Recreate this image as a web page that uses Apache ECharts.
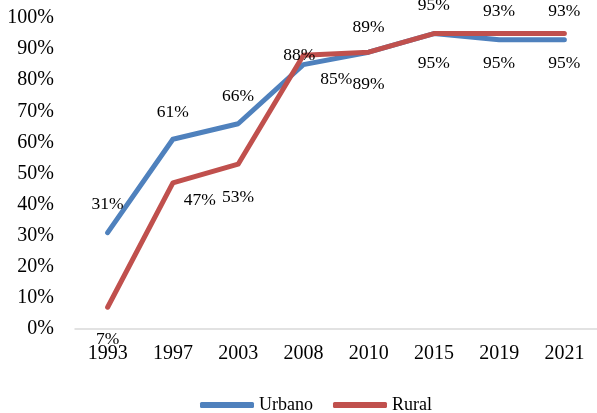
<!DOCTYPE html>
<html>
<head>
<meta charset="utf-8">
<script src="https://cdn.jsdelivr.net/npm/echarts@6/dist/echarts.min.js"></script>
<style>html,body{margin:0;padding:0;background:#fff}#c{width:597px;height:413px}</style>
</head>
<body>
<div id="c"></div>
<script>
const categories = ['1993','1997','2003','2008','2010','2015','2019','2021'];
const urbano = [31, 61, 66, 85, 89, 95, 93, 93];
const rural = [7, 47, 53, 88, 89, 95, 95, 95];
const yTicks = [0,10,20,30,40,50,60,70,80,90,100];

// label offsets [dx, dy] relative to the point (placement only)
const urbanoLabelOffsets = [[0,-28],[0,-27],[0,-27],[33,15],[0,32],[0,-28],[0,-28],[0,-28]];
const ruralLabelOffsets  = [[0,32],[27,18],[0,33],[-4,0],[0,-25],[0,30],[0,30],[0,30]];

const font = 'Liberation Serif, Times New Roman, serif';

function buildData(vals, offs){
  return vals.map((v,i)=>({value:v, label:{offset:offs[i]}}));
}

const chart = echarts.init(document.getElementById('c'), null, {renderer:'canvas'});
chart.setOption({
  animation:false,
  backgroundColor:'#fff',
  grid:{left:75, width:524, top:18, bottom:84, containLabel:false},
  xAxis:{
    type:'category', data:categories, boundaryGap:true,
    axisLine:{lineStyle:{color:'#d9d9d9', width:1.5}},
    axisTick:{show:false},
    axisLabel:{color:'#000', fontFamily:font, fontSize:20, margin:15}
  },
  yAxis:{
    type:'value', min:yTicks[0], max:yTicks[yTicks.length-1], interval:10,
    axisLine:{show:false}, axisTick:{show:false}, splitLine:{show:false},
    axisLabel:{color:'#000', fontFamily:font, fontSize:20, margin:21, formatter:'{value}%'}
  },
  legend:{
    data:['Urbano','Rural'], left:195, top:391, itemWidth:54, itemHeight:6, itemGap:20,
    icon:'roundRect',
    textStyle:{color:'#000', fontFamily:font, fontSize:18}
  },
  series:[
    {name:'Urbano', type:'line', data:buildData(urbano, urbanoLabelOffsets),
     symbol:'circle', symbolSize:0, showSymbol:true,
     lineStyle:{color:'#4f81bd', width:5, cap:'round', join:'round'},
     itemStyle:{color:'#4f81bd'},
     label:{show:true, position:'inside', formatter:'{c}%', color:'#000', fontFamily:font, fontSize:17.5}
    },
    {name:'Rural', type:'line', data:buildData(rural, ruralLabelOffsets),
     symbol:'circle', symbolSize:0, showSymbol:true,
     lineStyle:{color:'#c0504d', width:5, cap:'round', join:'round'},
     itemStyle:{color:'#c0504d'},
     label:{show:true, position:'inside', formatter:'{c}%', color:'#000', fontFamily:font, fontSize:17.5}
    }
  ]
});
</script>
</body>
</html>
